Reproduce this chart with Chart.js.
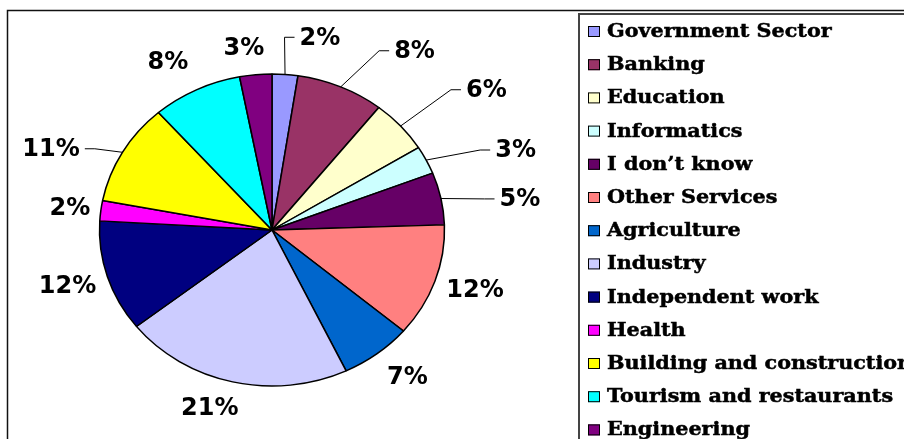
<!DOCTYPE html>
<html>
<head>
<meta charset="utf-8">
<script src="https://cdn.jsdelivr.net/npm/chart.js@4.4.1/dist/chart.umd.min.js"></script>
<style>
  html, body { margin: 0; padding: 0; background: #fff; overflow: hidden; }
  #wrap { position: relative; width: 904px; height: 439px; }
</style>
</head>
<body>
<div id="wrap"><canvas id="chart"></canvas></div>
<script>
const sectors = ["Government Sector", "Banking", "Education", "Informatics", "I don\u2019t know", "Other Services", "Agriculture", "Industry", "Independent work", "Health", "Building and construction", "Tourism and restaurants", "Engineering"];
const shares = [2.4, 8.2, 5.5, 2.9, 5.4, 11.7, 6.7, 21.4, 11.5, 2.1, 10.5, 8.4, 3.0];
const sliceColors = ["#9999FF", "#993366", "#FFFFCC", "#CCFFFF", "#660066", "#FF8080", "#0066CC", "#CCCCFF", "#000080", "#FF00FF", "#FFFF00", "#00FFFF", "#800080"];

// label placement: [angle shift from slice middle (deg), distance as part of radius, leader line]
const labelPlacement = [
  [8.4, 1.26, true], [12.4, 1.41, true], [6.1, 1.53, true], [6.9, 1.50, true],
  [4.0, 1.45, true], [-0.9, 1.24, false], [-2.1, 1.23, false], [4.3, 1.20, false],
  [0.4, 1.24, false], [-0.4, 1.18, false], [-8, 1.38, true], [-3.4, 1.23, false],
  [-2.6, 1.17, false]
];

const W = 904, H = 439;
const CX = 272, CY = 230, RY = 156;
const STRETCH = 172.5 / 156; // the pie is drawn a bit wider than tall

const frame = {
  id: 'frame',
  beforeDraw(chart) {
    const ctx = chart.ctx;
    ctx.save();
    ctx.strokeStyle = '#111';
    ctx.lineWidth = 1.5;
    ctx.strokeRect(7.5, 10.5, 1200, 1200);
    ctx.strokeStyle = '#444';
    ctx.lineWidth = 2;
    ctx.strokeRect(579, 14, 1200, 1200);
    ctx.restore();
  }
};

const stretchPie = {
  id: 'stretchPie',
  beforeDatasetsDraw(chart) {
    const arc = chart.getDatasetMeta(0).data[0];
    const ctx = chart.ctx;
    ctx.save();
    ctx.translate(arc.x, arc.y);
    ctx.scale(STRETCH, 1);
    ctx.translate(-arc.x, -arc.y);
  },
  afterDatasetsDraw(chart) {
    chart.ctx.restore();
  }
};

const pieLabels = {
  id: 'pieLabels',
  afterDraw(chart) {
    const ctx = chart.ctx;
    const arcs = chart.getDatasetMeta(0).data;
    ctx.save();
    ctx.font = 'bold 24px "DejaVu Sans"';
    ctx.fillStyle = '#000';
    ctx.strokeStyle = '#000';
    ctx.lineWidth = 1;
    ctx.textAlign = 'center';
    ctx.textBaseline = 'middle';
    arcs.forEach((arc, i) => {
      const [shift, dist, leader] = labelPlacement[i];
      const mid = (arc.startAngle + arc.endAngle) / 2 + Math.PI / 2;
      const a = arc.outerRadius * STRETCH, b = arc.outerRadius;
      const t = mid + shift * Math.PI / 180;
      const lx = arc.x + dist * a * Math.sin(t);
      const ly = arc.y - dist * b * Math.cos(t);
      const text = Math.round(shares[i]) + '%';
      const w = ctx.measureText(text).width;
      if (leader) {
        const ex = arc.x + a * Math.sin(mid), ey = arc.y - b * Math.cos(mid);
        const side = lx > arc.x ? -1 : 1;
        const end = lx + side * (w / 2 + 5);
        ctx.beginPath();
        ctx.moveTo(ex, ey);
        ctx.lineTo(end + side * 10, ly - 1);
        ctx.lineTo(end, ly - 1);
        ctx.stroke();
      }
      ctx.fillText(text, lx, ly);
    });
    ctx.restore();
  }
};

const sideLegend = {
  id: 'sideLegend',
  afterDraw(chart) {
    const ctx = chart.ctx;
    const colors = chart.data.datasets[0].backgroundColor;
    ctx.save();
    ctx.textAlign = 'left';
    ctx.textBaseline = 'alphabetic';
    ctx.lineWidth = 1;
    ctx.strokeStyle = '#000';
    chart.data.labels.forEach((name, i) => {
      const base = 37 + i * 33.2;
      ctx.fillStyle = colors[i];
      ctx.fillRect(588, base - 11, 12, 11);
      ctx.strokeRect(588.5, base - 10.5, 11, 10);
      // wide, heavy serif like the original legend
      ctx.save();
      ctx.translate(607, base);
      ctx.scale(1.09, 1);
      ctx.font = 'bold 19px "DejaVu Serif"';
      ctx.fillStyle = '#000';
      ctx.lineWidth = 0.5;
      ctx.fillText(name, 0, 0);
      ctx.strokeText(name, 0, 0);
      ctx.restore();
    });
    ctx.restore();
  }
};

new Chart(document.getElementById('chart'), {
  type: 'pie',
  data: {
    labels: sectors,
    datasets: [{
      data: shares,
      backgroundColor: sliceColors,
      borderColor: '#000',
      borderWidth: 1.4
    }]
  },
  options: {
    responsive: true,
    maintainAspectRatio: false,
    animation: false,
    layout: {
      padding: {
        left: CX - RY - 0.7,
        right: W - (CX + RY + 0.7),
        top: CY - RY - 0.7,
        bottom: H - (CY + RY + 0.7)
      }
    },
    plugins: {
      legend: { display: false },
      tooltip: { enabled: false }
    }
  },
  plugins: [frame, stretchPie, pieLabels, sideLegend]
});
</script>
</body>
</html>
